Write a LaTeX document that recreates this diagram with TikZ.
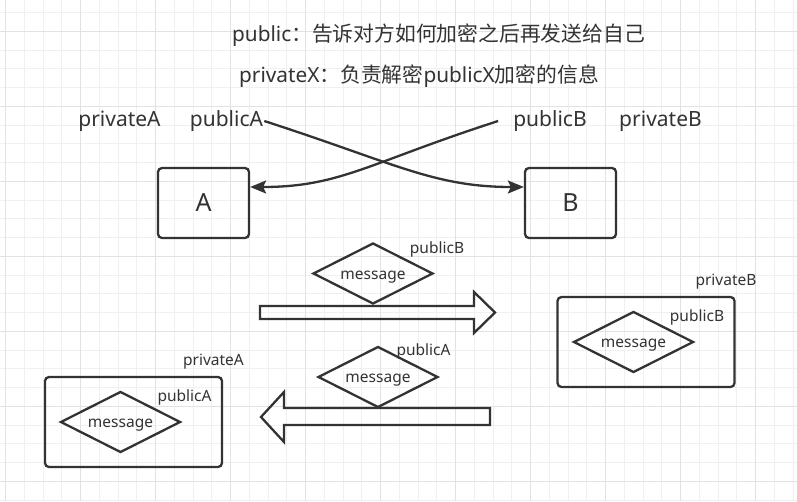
\documentclass[tikz,border=0pt]{standalone}
\usepackage{fontspec}
\setmainfont{Noto Sans}
\newfontfamily\zh{Noto Sans CJK SC}
\usetikzlibrary{arrows.meta,shapes.geometric}
\definecolor{ink}{RGB}{51,51,51}
\definecolor{gridminor}{RGB}{240,240,240}
\definecolor{gridmajor}{RGB}{226,226,226}

\begin{document}
\begin{tikzpicture}[
            x=1pt, y=-1pt,
            every node/.style={text=ink, inner sep=1pt},
            box/.style={draw=ink, line width=2.3pt, rounded corners=4pt, minimum width=91pt, minimum height=70pt, font=\fontsize{25}{30}\selectfont},
            holder/.style={draw=ink, line width=2.3pt, rounded corners=4pt, minimum width=177pt, minimum height=90pt},
            msg/.style={draw=ink, line width=2.3pt, diamond, aspect=2, inner sep=0pt, minimum width=120pt, minimum height=61pt, text height=11pt, text depth=0pt, font=\fontsize{15.5}{18}\selectfont},
            keylabel/.style={font=\fontsize{21}{25}\selectfont},
            tag/.style={font=\fontsize{15.5}{18}\selectfont},
            headline/.style={font=\fontsize{20.8}{25}\selectfont},
            link/.style={draw=ink, line width=2.3pt, -{Stealth[length=16pt,width=13pt,inset=3pt]}},
            pipe/.style={draw=ink, line width=2.3pt, line join=miter},
            % gridline/.style = {line width=1pt},
            ]
            \fill[white] (0,0) rectangle (797,501);
            \useasboundingbox (0,0) rectangle (797,501);
            \foreach \i in {0,...,42}
                \draw[gridminor, line width=1pt] ({5.7+18.75*\i},0) -- ({5.7+18.75*\i},501);
            \foreach \j in {0,...,26}
                \draw[gridminor, line width=1pt] (0,{12.7+18.75*\j}) -- (797,{12.7+18.75*\j});
            \foreach \i in {0,...,10}
                \draw[gridmajor, line width=1pt] ({5.7+75*\i},0) -- ({5.7+75*\i},501);
            \foreach \j in {0,...,6}
                \draw[gridmajor, line width=1pt] (0,{31.7+75*\j}) -- (797,{31.7+75*\j});

            \node[headline] (t1) at (438.5,35) {public{\zh ：告诉对方如何加密之后再发送给自己}};
            \node[headline] (t2) at (419,76) {privateX{\zh ：负责解密}publicX{\zh 加密的信息}};

            \node[keylabel] (privA) at (119.5,121) {privateA};
            \node[keylabel] (pubA) at (226.5,121) {publicA};
            \node[keylabel] (pubB) at (550,121) {publicB};
            \node[keylabel] (privB) at (660.5,121) {privateB};

            \node[box] (A) at (203.5,203) {A};
            \node[box] (B) at (570.5,203) {B};

            \draw[link] (pubA.east) .. controls +(130,42) and +(-90,0) .. ([yshift=16pt]B.west);
            \draw[link] ([xshift=-14pt]pubB.west) .. controls +(-130,42) and +(90,0) .. ([yshift=16pt]A.east);

            \node[msg] (m1) at (373,273.5) {message};
            \node[tag] (m1key) at (437,249) {publicB};
            \draw[pipe] (260,306) -- (474,306) -- (474,292) -- (495,312.5) -- (474,333) -- (474,319) -- (260,319) -- cycle;

            \node[msg] (m2) at (378,377) {message};
            \node[tag] (m2key) at (423.5,351) {publicA};
            \draw[pipe] (490,408) -- (284,408) -- (284,392) -- (261,417) -- (284,442) -- (284,425) -- (490,425) -- cycle;

            \node[holder] (boxB) at (646,342) {};
            \node[msg] (mB) at (633.5,342) {message};
            \node[tag] (mBkey) at (697,317) {publicB};
            \node[tag] (boxBkey) at (726,282) {privateB};

            \node[holder] (boxA) at (133.5,422) {};
            \node[msg] (mA) at (120.5,422) {message};
            \node[tag] (mAkey) at (184.5,397) {publicA};
            \node[tag] (boxAkey) at (213.5,362) {privateA};
        \end{tikzpicture}
\end{document}
